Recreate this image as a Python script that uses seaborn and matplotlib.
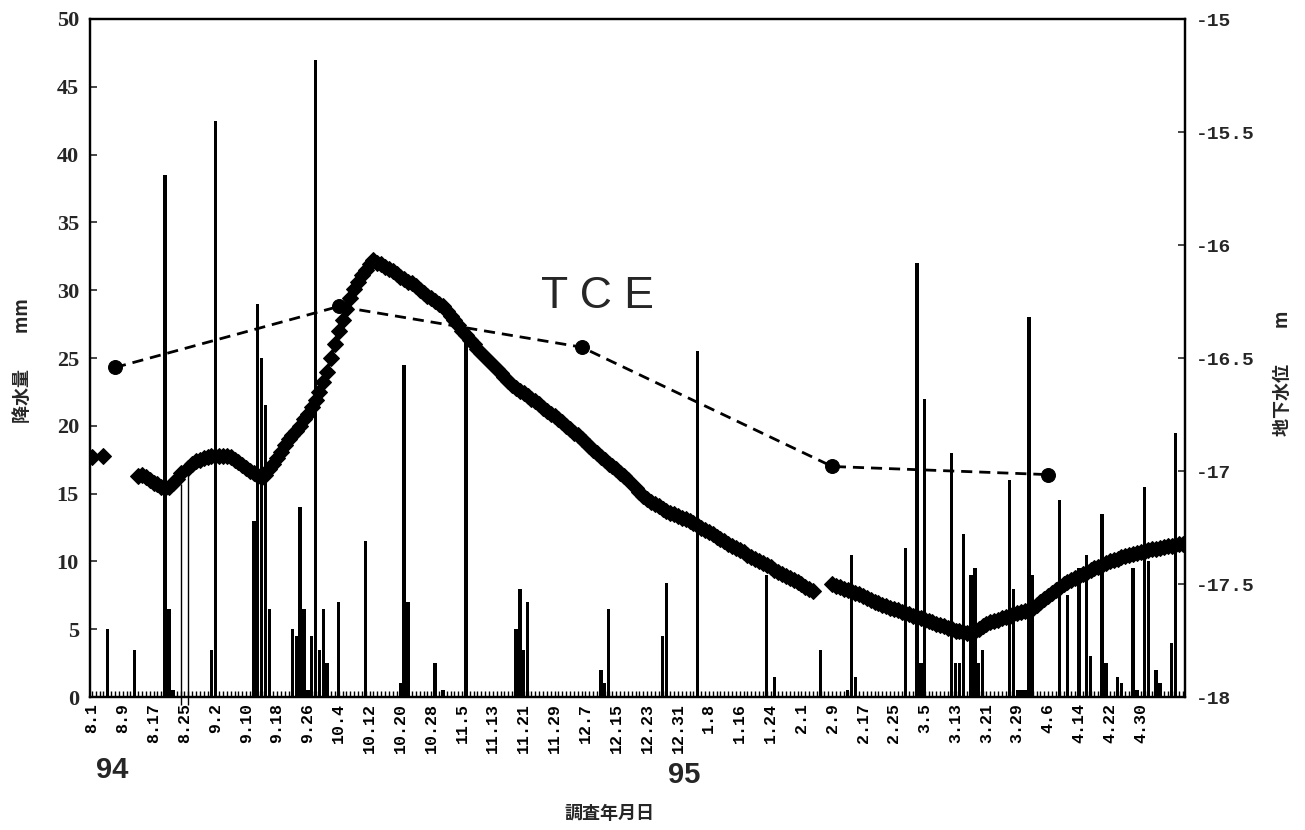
import pandas as pd
import seaborn as sns
import matplotlib.pyplot as plt

# 日数 = 1994.8.1 からの経過日数
# 降水量 (mm)
rain_day = [4, 11, 19, 20, 21, 31, 32, 42, 43, 44, 45, 46, 52, 53, 54, 55, 56, 57, 58, 59,
            60, 61, 64, 71, 80, 81, 82, 89, 91, 97, 110, 111, 112, 113, 132, 133, 134, 148, 149, 157,
            175, 177, 189, 196, 197, 198, 211, 214, 215, 216, 223, 224, 225, 226, 228, 229, 230, 231,
            238, 239, 240, 241, 242, 243, 244, 251, 253, 256, 258, 259, 262, 263, 266, 267, 270, 271,
            273, 274, 276, 277, 280, 281]
rain_mm = [5.0, 3.5, 38.5, 6.5, 0.5, 3.5, 42.5, 13.0, 29.0, 25.0, 21.5, 6.5, 5.0, 4.5, 14.0, 6.5, 0.5, 4.5, 47.0, 3.5,
           6.5, 2.5, 7.0, 11.5, 1.0, 24.5, 7.0, 2.5, 0.5, 26.3, 5.0, 8.0, 3.5, 7.0, 2.0, 1.0, 6.5, 4.5, 8.4, 25.5,
           9.0, 1.5, 3.5, 0.5, 10.5, 1.5, 11.0, 32.0, 2.5, 22.0, 18.0, 2.5, 2.5, 12.0, 9.0, 9.5, 2.5, 3.5,
           16.0, 8.0, 0.5, 0.5, 0.5, 28.0, 9.0, 14.5, 7.5, 9.5, 10.5, 3.0, 13.5, 2.5, 1.5, 1.0, 9.5, 0.5,
           15.5, 10.0, 2.0, 1.0, 4.0, 19.5]

# 8月下旬の細い縦線
mark_day = [23, 25]
mark_top = [15.7, 16.7]

# 地下水位 (m)
gw_p0 = [-16.938]            # day 0
gw_p1 = [-16.932]            # day 3
gw_a = [-17.022, -17.016, -17.028, -17.040, -17.052, -17.058, -17.070, -17.076, -17.070, -17.052,
        -17.034, -17.010]    # day 12-23
gw_b = [-16.986, -16.968, -16.956, -16.950, -16.944, -16.938, -16.935, -16.932, -16.932, -16.932,
        -16.935, -16.938, -16.950, -16.962, -16.974, -16.986, -16.998, -17.010, -17.022, -17.028,
        -17.016, -16.992, -16.968, -16.944, -16.914, -16.884, -16.860, -16.842, -16.824, -16.800,
        -16.770, -16.746, -16.716, -16.686, -16.650, -16.608, -16.560, -16.500, -16.440, -16.380,
        -16.332, -16.284, -16.236, -16.194, -16.164, -16.134, -16.110, -16.086, -16.068, -16.080,
        -16.086, -16.098, -16.104, -16.116, -16.128, -16.140, -16.152, -16.164, -16.170, -16.182,
        -16.200, -16.212, -16.224, -16.236, -16.248, -16.260, -16.272, -16.290, -16.314, -16.332,
        -16.356, -16.380, -16.398, -16.422, -16.440, -16.458, -16.476, -16.494, -16.512, -16.530,
        -16.548, -16.566, -16.584, -16.602, -16.620, -16.632, -16.644, -16.656, -16.668, -16.680,
        -16.692, -16.704, -16.722, -16.734, -16.746, -16.758, -16.770, -16.782, -16.800, -16.812,
        -16.830, -16.842, -16.860, -16.872, -16.890, -16.908, -16.920, -16.938, -16.950, -16.968,
        -16.980, -16.992, -17.010, -17.022, -17.040]    # day 25-139
gw_c = [-17.076, -17.094, -17.112, -17.124, -17.136, -17.148, -17.157, -17.166, -17.175, -17.184,
        -17.190, -17.199, -17.208, -17.214, -17.223, -17.232, -17.241, -17.250, -17.262, -17.271,
        -17.280, -17.292, -17.301, -17.310, -17.322, -17.331, -17.340, -17.349, -17.358, -17.370,
        -17.379, -17.388, -17.397, -17.406, -17.415, -17.424, -17.436, -17.445, -17.454, -17.466,
        -17.475, -17.484, -17.493, -17.502, -17.514, -17.523, -17.532]    # day 141-187
gw_d = [-17.499, -17.508, -17.514, -17.520, -17.526, -17.532, -17.538, -17.544, -17.553, -17.562,
        -17.571, -17.580, -17.586, -17.592, -17.598, -17.604, -17.610, -17.616, -17.622, -17.628,
        -17.634, -17.640, -17.646, -17.652, -17.658, -17.664, -17.670, -17.676, -17.682, -17.688,
        -17.694, -17.700, -17.706, -17.709, -17.712, -17.715, -17.715, -17.706, -17.697, -17.688,
        -17.679, -17.670, -17.664, -17.658, -17.652, -17.646, -17.640, -17.634, -17.628, -17.625,
        -17.619, -17.613, -17.604, -17.592, -17.580, -17.568, -17.553, -17.538, -17.526, -17.514,
        -17.502, -17.493, -17.484, -17.472, -17.463, -17.454, -17.445, -17.439, -17.430, -17.424,
        -17.415, -17.409, -17.400, -17.394, -17.388, -17.382, -17.376, -17.373, -17.367, -17.364,
        -17.358, -17.352, -17.349, -17.346, -17.343, -17.340, -17.337, -17.334, -17.331, -17.328,
        -17.325, -17.322]    # day 192-283
gw_start = [0, 3, 12, 25, 141, 192]

# TCE
tce_day = [6, 64, 127, 192, 248]
tce_val = [24.3, 28.8, 25.8, 17.0, 16.4]

tick_labels = ['8.1', '8.9', '8.17', '8.25', '9.2', '9.10', '9.18', '9.26', '10.4', '10.12',
               '10.20', '10.28', '11.5', '11.13', '11.21', '11.29', '12.7', '12.15', '12.23', '12.31',
               '1.8', '1.16', '1.24', '2.1', '2.9', '2.17', '2.25', '3.5', '3.13', '3.21',
               '3.29', '4.6', '4.14', '4.22', '4.30']

# 地下水位のデータフレーム (欠測で線を切る)
rows = []
for k, (s, vals) in enumerate(zip(gw_start, [gw_p0, gw_p1, gw_a, gw_b, gw_c, gw_d])):
    for i, v in enumerate(vals):
        rows.append((s + i, v, k))
gw = pd.DataFrame(rows, columns=['day', 'level', 'seg'])

sns.set_theme(style='ticks')
plt.rcParams['font.family'] = ['Liberation Serif', 'Noto Sans CJK JP', 'DejaVu Sans']
plt.rcParams['axes.unicode_minus'] = False

fig = plt.figure(figsize=(13.05, 8.3), dpi=100)
ax = fig.add_axes([90 / 1305, 133 / 830, 1095 / 1305, 678 / 830])

sns.barplot(x=rain_day, y=rain_mm, native_scale=True, color='black', width=0.9,
            linewidth=0, saturation=1, errorbar=None, ax=ax)
ax.vlines(mark_day, -0.6, mark_top, color='black', lw=1, clip_on=False)
sns.lineplot(x=tce_day, y=tce_val, color='black', lw=2, linestyle=(0, (4, 2.5)),
             marker='o', markersize=10, markeredgecolor='black', ax=ax)

ax2 = ax.twinx()
sns.lineplot(data=gw, x='day', y='level', units='seg', estimator=None, color='black',
             lw=2.5, marker='D', markersize=8, markeredgecolor='black', ax=ax2)

ax.set_xlim(-0.5, 283.5)
ax.set_ylim(0, 50)
ax2.set_ylim(-18, -15)
ax.set_xticks(range(0, 273, 8))
ax.set_xticklabels(tick_labels, rotation=90, va='top', ha='center',
                   family='Liberation Mono', fontweight='bold', fontsize=12)
ax.set_xticks(range(0, 284), minor=True)
ax.tick_params(axis='x', which='both', direction='in', length=4, width=1, colors='black', pad=4)
ax.set_yticks(range(0, 51, 5))
ax.tick_params(axis='y', direction='in', length=5, width=1.2, labelsize=16, pad=8)
for t in ax.get_yticklabels():
    t.set_fontweight('bold')
ax2.set_yticks([-18, -17.5, -17, -16.5, -16, -15.5, -15])
ax2.set_yticklabels(['-18', '-17.5', '-17', '-16.5', '-16', '-15.5', '-15'],
                    family='Liberation Mono', fontweight='bold', fontsize=14)
ax2.tick_params(axis='y', direction='in', length=5, width=1.2, pad=8)

for a in (ax, ax2):
    a.set_xlabel('')
    a.set_ylabel('')
    for sp in a.spines.values():
        sp.set_visible(True)
        sp.set_linewidth(1.6)
        sp.set_color('black')

ax.text(131, 29.5, 'T C E', fontsize=32, family='Liberation Sans', ha='center', va='center')

cjk = ['Noto Sans CJK JP', 'DejaVu Sans']
fig.text(0.017, 0.565, '降水量\u3000\u3000mm', rotation=90, ha='center', va='center',
         family=cjk, fontweight='bold', fontsize=13)
fig.text(0.983, 0.55, '地下水位\u3000\u3000m', rotation=90, ha='center', va='center',
         family=cjk, fontweight='bold', fontsize=13)
fig.text(0.467, 0.02, '調査年月日', ha='center', va='center', family=cjk,
         fontweight='bold', fontsize=13)
fig.text(0.086, 0.072, '94', ha='center', va='center', family='Liberation Sans',
         fontweight='bold', fontsize=21)
fig.text(0.524, 0.066, '95', ha='center', va='center', family='Liberation Sans',
         fontweight='bold', fontsize=21)

fig.savefig('out.png', dpi=100, facecolor='white')
